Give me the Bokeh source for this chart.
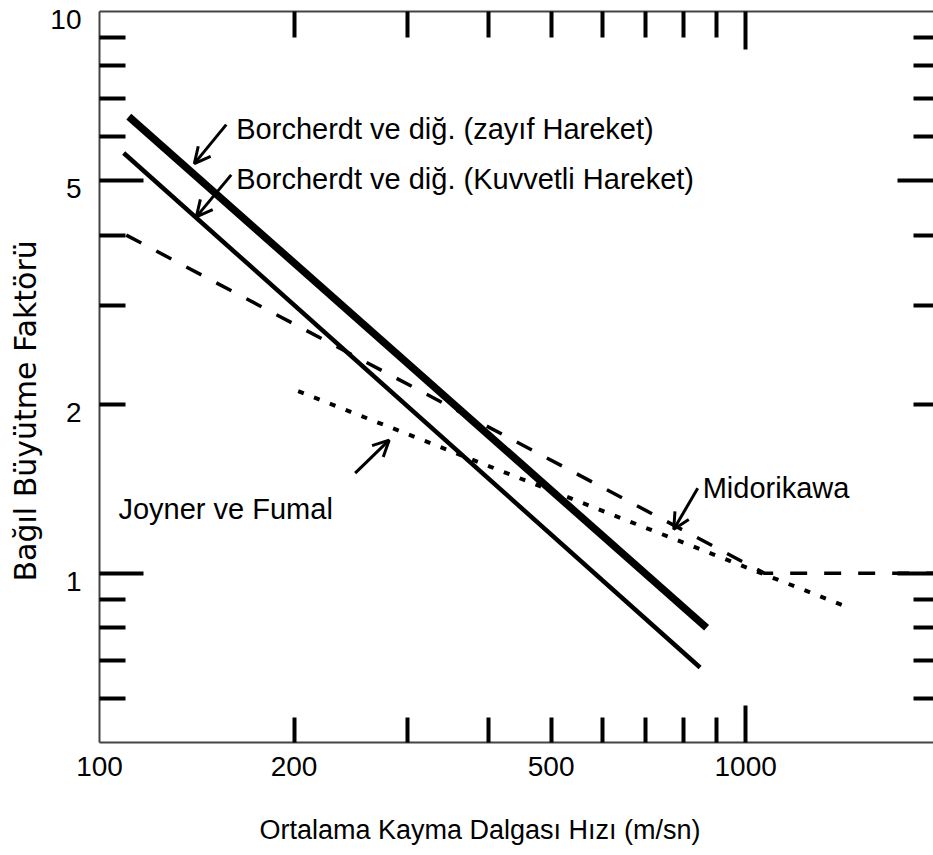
import math
from bokeh.plotting import figure
from bokeh.models import (FixedTicker, LogAxis, Label, Arrow, OpenHead, Title,
                          CustomJSTickFormatter, Range1d, LogScale)
from bokeh.embed import file_html
from bokeh.resources import INLINE

# ---- data ----
borch_weak_v = [111, 870]
borch_weak_a = [6.5, 0.80]
borch_strong_v = [109, 850]
borch_strong_a = [5.6, 0.68]
midorikawa_v = [110, 1070, 1960]
midorikawa_a = [4.0, 1.0, 1.0]
joyner_v = [203, 1440]
joyner_a = [2.11, 0.87]

x_tick_values = [100, 200, 500, 1000]
x_tick_labels = ["100", "200", "500", "1000"]
y_tick_values = [1, 2, 5, 10]
y_tick_labels = ["1", "2", "5", "10"]
x_major_ticks = [1000]
x_minor_ticks = [200, 300, 400, 500, 600, 700, 800, 900]
y_major_ticks = [1, 5]
y_minor_ticks = [0.6, 0.7, 0.8, 0.9, 2, 3, 4, 6, 7, 8, 9]

x_title = "Ortalama Kayma Dalgası Hızı (m/sn)"
x_title_at = 388          # x value under the centre of the x-axis title
y_title = "Bağıl Büyütme Faktörü"

ann_texts = ["Borcherdt ve diğ. (zayıf Hareket)",
             "Borcherdt ve diğ. (Kuvvetli Hareket)",
             "Midorikawa",
             "Joyner ve Fumal"]
ann_x = [162.8, 162.8, 858, 107]
ann_y = [6.18, 5.04, 1.417, 1.30]

arrow_x0 = [157.1, 159.9, 248.7, 843]
arrow_y0 = [6.29, 5.12, 1.508, 1.417]
arrow_x1 = [140.2, 141.2, 280.7, 774]
arrow_y1 = [5.36, 4.31, 1.726, 1.198]

X0, X1 = 100, 1953
Y0, Y1 = 0.5, 10
FONT = "Liberation Sans"
FRAME_H = 731
YLAB_SHIFT_PX = 8  # tick labels sit a little below their ticks in the reference
k = 10 ** (YLAB_SHIFT_PX * math.log10(Y1 / Y0) / FRAME_H)

p = figure(width=933, height=855, x_axis_type="log", y_axis_type="log",
           x_range=Range1d(X0, X1), y_range=Range1d(Y0, Y1),
           output_backend="svg", toolbar_location=None,
           min_border_left=98, min_border_right=0,
           min_border_top=11, min_border_bottom=113)
p.outline_line_color = None
p.grid.visible = False
p.background_fill_color = "white"
p.border_fill_color = "white"
p.extra_y_ranges = {"ylab": Range1d(Y0 * k, Y1 * k)}
p.extra_y_scales = {"ylab": LogScale()}


def style_tick_axis(ax, major, minor, major_len, minor_len, line=True):
    ax.ticker = FixedTicker(ticks=major, minor_ticks=minor)
    ax.formatter = CustomJSTickFormatter(code="return ''")
    ax.major_label_text_font_size = "0px"
    ax.major_label_standoff = 0
    ax.major_tick_in = major_len
    ax.major_tick_out = 0
    ax.minor_tick_in = minor_len
    ax.minor_tick_out = 0
    ax.major_tick_line_width = 4
    ax.minor_tick_line_width = 4
    ax.major_tick_line_color = "black"
    ax.minor_tick_line_color = "black"
    ax.axis_line_color = "#444444" if line else None
    ax.axis_line_width = 2


def label_axis(values, labels, standoff, size="28px", **kw):
    ax = LogAxis(**kw)
    ax.ticker = FixedTicker(ticks=values, minor_ticks=[])
    ax.major_label_overrides = {v: t for v, t in zip(values, labels)}
    ax.major_label_text_font = FONT
    ax.major_label_text_font_size = size
    ax.major_label_text_color = "black"
    ax.major_label_standoff = standoff
    ax.major_tick_in = 0
    ax.major_tick_out = 0
    ax.minor_tick_in = 0
    ax.minor_tick_out = 0
    ax.major_tick_line_color = None
    ax.minor_tick_line_color = None
    ax.axis_line_color = None
    return ax


style_tick_axis(p.xaxis[0], x_major_ticks, x_minor_ticks, 37, 25)
style_tick_axis(p.yaxis[0], y_major_ticks, y_minor_ticks, 44, 26)
top = LogAxis()
style_tick_axis(top, x_major_ticks, x_minor_ticks, 38, 26)
p.add_layout(top, "above")
right = LogAxis()
style_tick_axis(right, y_major_ticks, y_minor_ticks, 36, 20, line=False)
p.add_layout(right, "right")

# tick labels
p.add_layout(label_axis(x_tick_values, x_tick_labels, 14), "below")
p.add_layout(label_axis(y_tick_values, y_tick_labels, 18, y_range_name="ylab"), "left")

# ---- axis titles ----
p.add_layout(label_axis([x_title_at], [x_title], 36, size="27px"), "below")
p.add_layout(Title(text=y_title, align="left", offset=161, standoff=10,
                   text_font="DejaVu Sans", text_font_size="30px", text_font_style="normal",
                   text_color="black"), "left")

# ---- curves ----
p.line(borch_weak_v, borch_weak_a, line_width=7.5, color="black")
p.line(borch_strong_v, borch_strong_a, line_width=4.5, color="black")
p.line(midorikawa_v, midorikawa_a, line_width=3.5, color="black", line_dash="17 17")
p.line(joyner_v, joyner_a, line_width=4, color="black", line_dash="6 11")

# ---- annotations ----
for t, x, y in zip(ann_texts, ann_x, ann_y):
    p.add_layout(Label(x=x, y=y, text=t, text_align="left", text_baseline="alphabetic",
                       text_font=FONT, text_font_size="29px", text_color="black"))
for xs, ys, xe, ye in zip(arrow_x0, arrow_y0, arrow_x1, arrow_y1):
    p.add_layout(Arrow(x_start=xs, y_start=ys, x_end=xe, y_end=ye,
                       line_width=3, line_color="black",
                       end=OpenHead(size=16, line_width=3, line_color="black")))

open("out.html", "w").write(file_html(p, INLINE))
